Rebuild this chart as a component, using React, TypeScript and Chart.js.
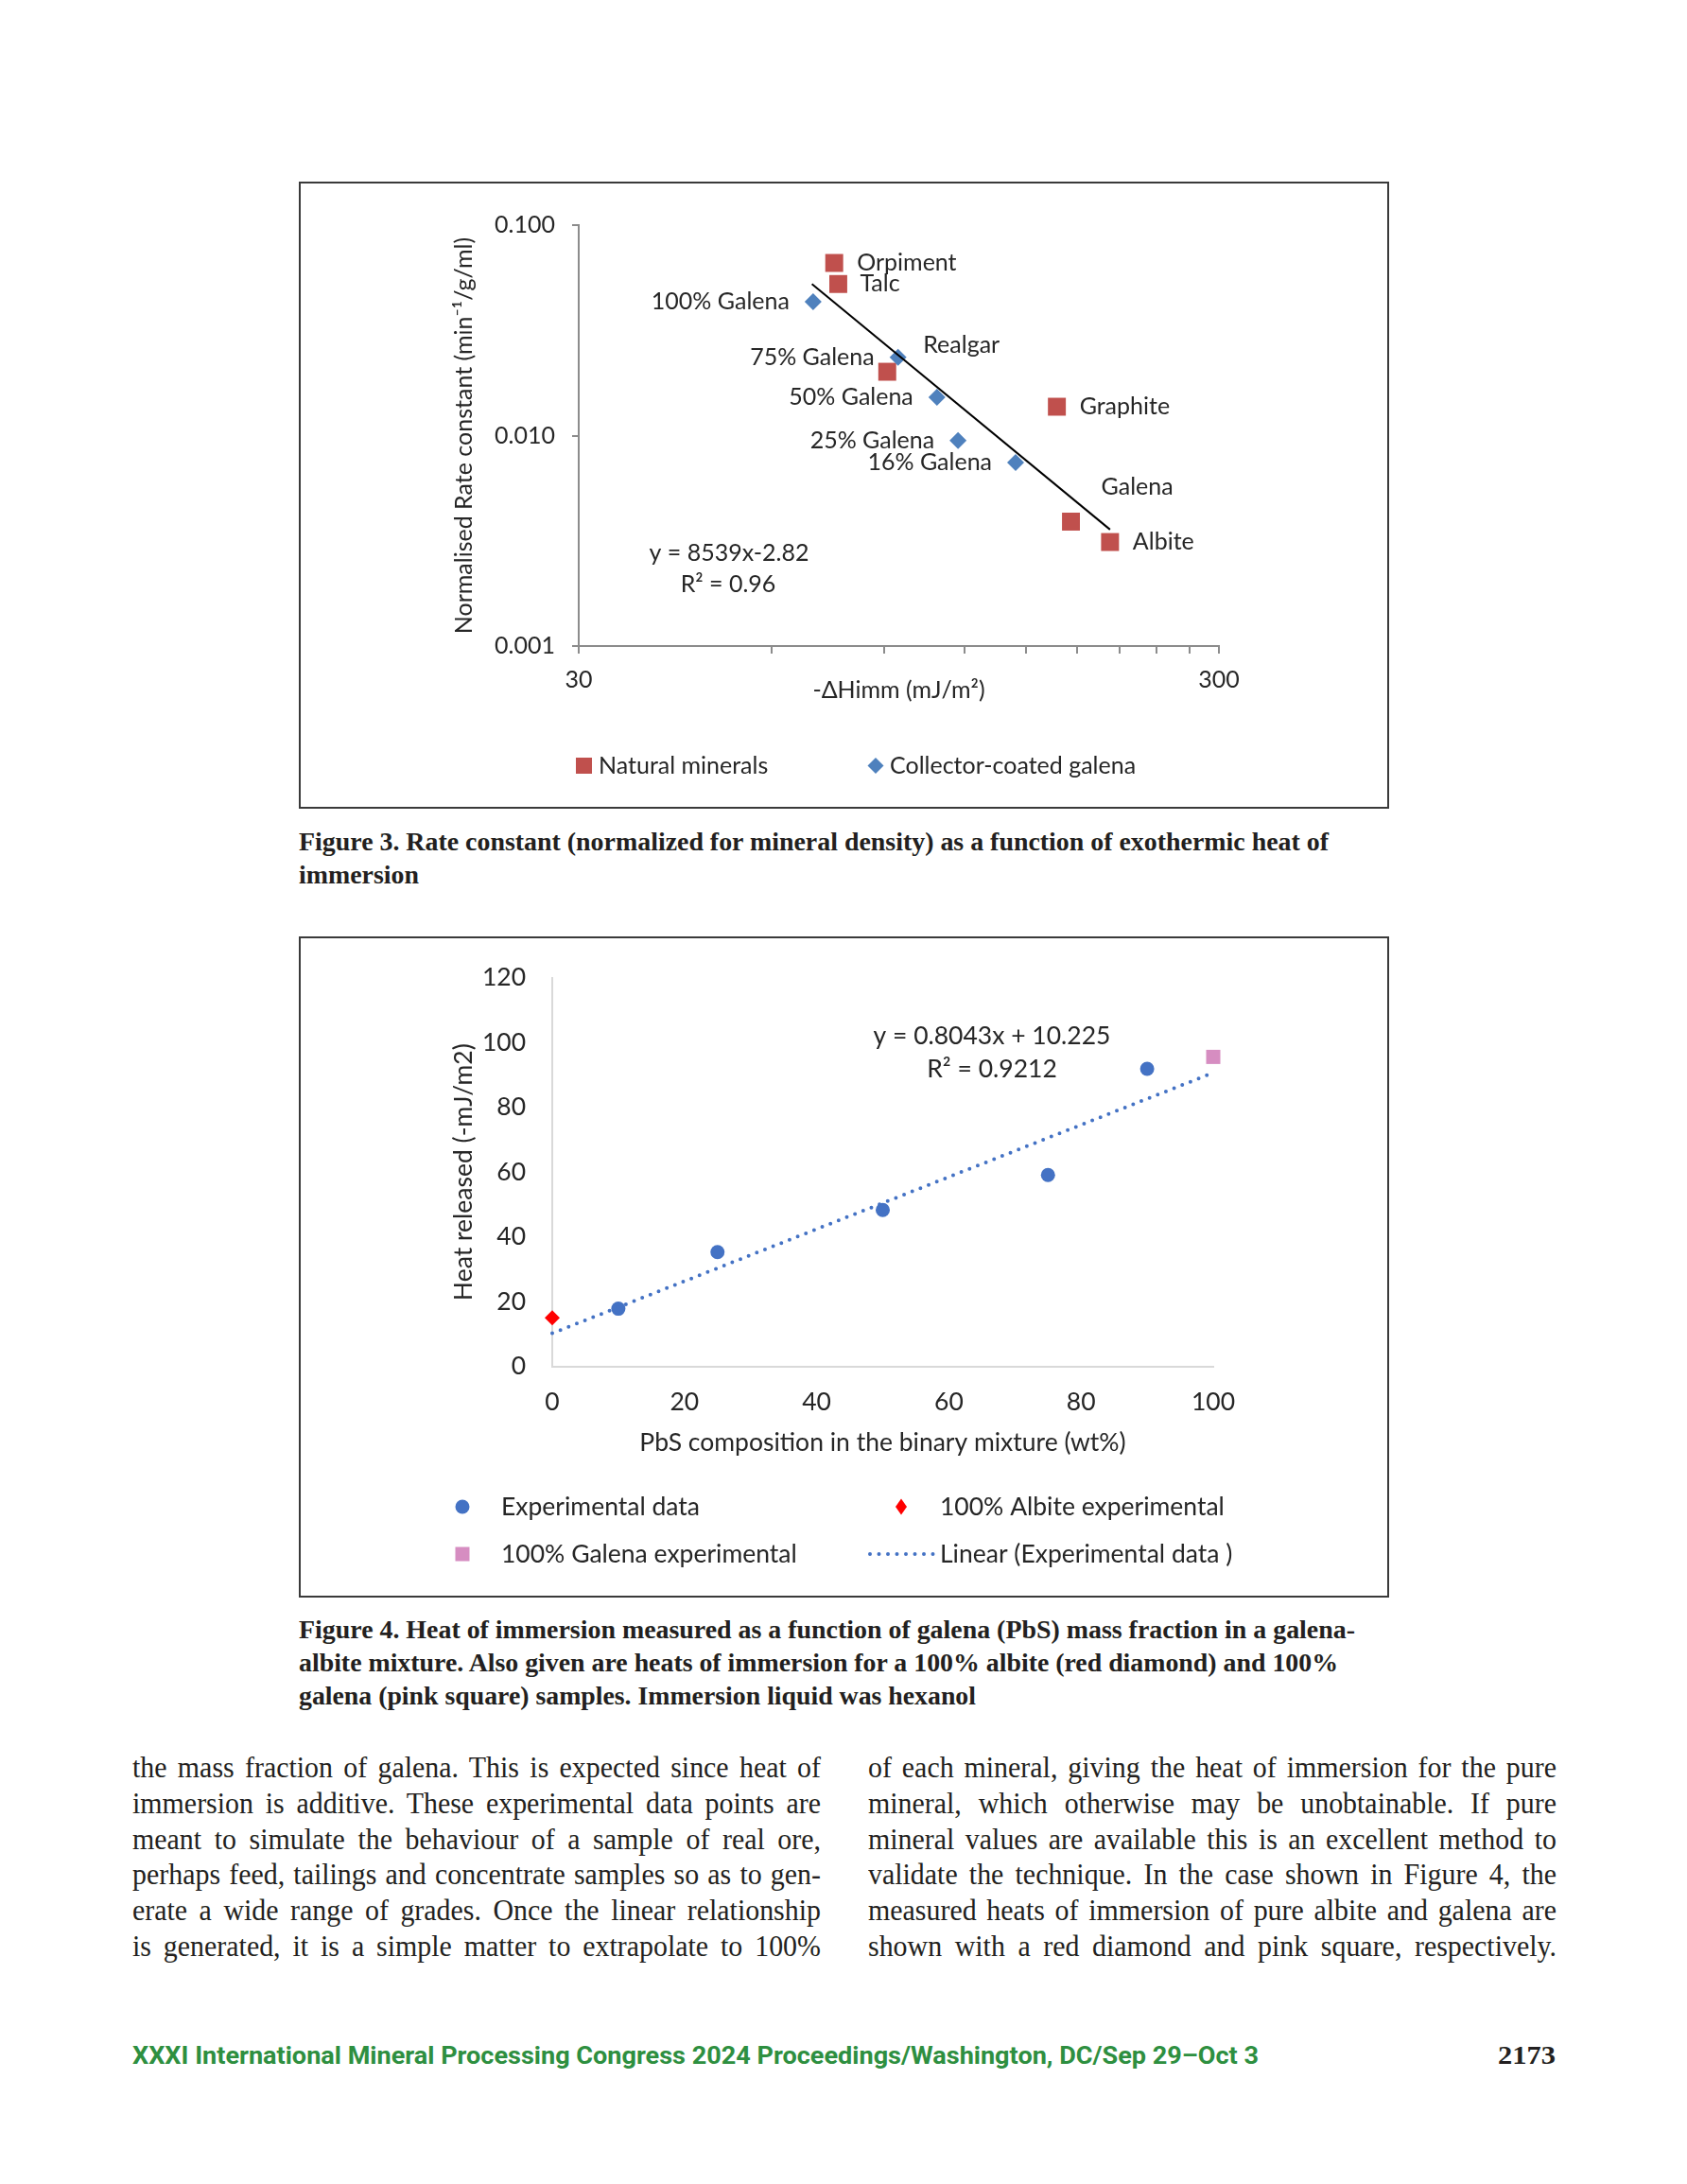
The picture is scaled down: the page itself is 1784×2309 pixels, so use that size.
import React, { useEffect, useLayoutEffect, useRef } from 'react';
import { Chart, registerables } from 'chart.js';

Chart.register(...registerables);

// ---------------- Figure 3 data ----------------
const naturalNames = ['Orpiment', 'Talc', 'Realgar', 'Graphite', 'Galena', 'Albite'];
const naturalHeat = [75.2, 76.3, 91.0, 167.5, 176.2, 202.8];
const naturalRate = [0.0661, 0.0525, 0.0201, 0.01371, 0.0039, 0.00312];

const coatedNames = ['100% Galena', '75% Galena', '50% Galena', '25% Galena', '16% Galena'];
const coatedHeat = [69.7, 94.6, 108.8, 117.4, 144.4];
const coatedRate = [0.0432, 0.02354, 0.0152, 0.00948, 0.00745];

const powerTrendHeat = [69.4, 202.8];
const powerTrendRate = [0.0525, 0.003575];

const fig3XTicks = [30, 60, 90, 120, 150, 180, 210, 240, 270, 300];
const fig3XTickLabels = ['30', '', '', '', '', '', '', '', '', '300'];
const fig3YTicks = [0.001, 0.01, 0.1];
const fig3YTickLabels = ['0.001', '0.010', '0.100'];

// ---------------- Figure 4 data ----------------
const expComposition = [10, 25, 50, 75, 90];
const expHeat = [17.8, 35.3, 48.3, 59.1, 91.9];
const albiteComposition = [0];
const albiteHeat = [15.0];
const galenaComposition = [100];
const galenaHeat = [95.6];
const linearComposition = [0, 100];
const linearHeat = [10.2, 90.7];

const fig4XTicks = [0, 20, 40, 60, 80, 100];
const fig4YTicks = [0, 20, 40, 60, 80, 100, 120];

// ---------------- styles ----------------
const TEXT = '#262626';
const SANS = 'Lato, "Noto Sans", "DejaVu Sans", sans-serif';
const SERIF = '"Liberation Serif", "DejaVu Serif", serif';
const RED3 = '#C0504D';
const BLUE3 = '#4F81BD';
const AXIS3 = '#8c8c8c';
const BLUE4 = '#4472C4';
const RED4 = '#FF0000';
const PINK4 = '#D68DC1';
const AXIS4 = '#d9d9d9';

const naturalLabelPlace = [
  { dx: 24, dy: 0, align: 'left' },
  { dx: 23, dy: 0, align: 'left' },
  { dx: 38, dy: -28, align: 'left' },
  { dx: 24, dy: 0, align: 'left' },
  { dx: 32, dy: -37, align: 'left' },
  { dx: 24, dy: 0, align: 'left' },
];
const coatedLabelPlace = [
  { dx: -25, dy: 0, align: 'right' },
  { dx: -25, dy: 0, align: 'right' },
  { dx: -25, dy: 0, align: 'right' },
  { dx: -25, dy: 0, align: 'right' },
  { dx: -25, dy: 0, align: 'right' },
];

function tickLabel(v: number, ticks: number[], labels: string[]) {
  const i = ticks.findIndex((t) => Math.abs(v - t) <= Math.abs(t) * 1e-6 + 1e-12);
  return i >= 0 ? labels[i] : '';
}

const F3 = 25;
const F4 = 26.5;

const fig3Decor = {
  id: 'fig3Decor',
  afterDatasetsDraw(chart: any) {
    const { ctx } = chart;
    const x = chart.scales.x;
    const y = chart.scales.y;
    ctx.save();
    ctx.fillStyle = TEXT;
    ctx.font = `${F3}px ${SANS}`;
    ctx.textBaseline = 'middle';
    naturalNames.forEach((n, i) => {
      const p = naturalLabelPlace[i];
      ctx.textAlign = p.align;
      ctx.fillText(n, x.getPixelForValue(naturalHeat[i]) + p.dx, y.getPixelForValue(naturalRate[i]) + p.dy);
    });
    coatedNames.forEach((n, i) => {
      const p = coatedLabelPlace[i];
      ctx.textAlign = p.align;
      ctx.fillText(n, x.getPixelForValue(coatedHeat[i]) + p.dx, y.getPixelForValue(coatedRate[i]) + p.dy);
    });
    // trendline equation
    ctx.textAlign = 'center';
    ctx.fillText('y = 8539x-2.82', 455, 393);
    ctx.fillText('R\u00B2 = 0.96', 454, 426);
    // legend
    const ly = 617.5;
    ctx.fillStyle = RED3;
    ctx.fillRect(301.5 - 8.5, ly - 8.5, 17, 17);
    ctx.fillStyle = BLUE3;
    ctx.beginPath();
    ctx.moveTo(610, ly - 8.5);
    ctx.lineTo(618.5, ly);
    ctx.lineTo(610, ly + 8.5);
    ctx.lineTo(601.5, ly);
    ctx.closePath();
    ctx.fill();
    ctx.fillStyle = TEXT;
    ctx.textAlign = 'left';
    ctx.fillText('Natural minerals', 317, ly);
    ctx.fillText('Collector-coated galena', 625, ly);
    ctx.restore();
  },
};

const fig4Decor = {
  id: 'fig4Decor',
  afterDatasetsDraw(chart: any) {
    const { ctx } = chart;
    ctx.save();
    ctx.fillStyle = TEXT;
    ctx.font = `${F4}px ${SANS}`;
    ctx.textBaseline = 'middle';
    ctx.textAlign = 'center';
    ctx.fillText('y = 0.8043x + 10.225', 733, 105);
    ctx.fillText('R\u00B2 = 0.9212', 733, 140.5);
    // legend
    const r1 = 603;
    const r2 = 653;
    ctx.fillStyle = BLUE4;
    ctx.beginPath();
    ctx.arc(173, r1, 7.5, 0, Math.PI * 2);
    ctx.fill();
    ctx.fillStyle = RED4;
    ctx.beginPath();
    ctx.moveTo(637, r1 - 8.5);
    ctx.lineTo(643, r1);
    ctx.lineTo(637, r1 + 8.5);
    ctx.lineTo(631, r1);
    ctx.closePath();
    ctx.fill();
    ctx.fillStyle = PINK4;
    ctx.fillRect(173 - 7.5, r2 - 7.5, 15, 15);
    ctx.strokeStyle = BLUE4;
    ctx.lineWidth = 4;
    ctx.lineCap = 'round';
    ctx.setLineDash([0, 9.5]);
    ctx.beginPath();
    ctx.moveTo(604, r2);
    ctx.lineTo(671, r2);
    ctx.stroke();
    ctx.setLineDash([]);
    ctx.fillStyle = TEXT;
    ctx.textAlign = 'left';
    ctx.fillText('Experimental data', 214, r1);
    ctx.fillText('100% Albite experimental', 678, r1);
    ctx.fillText('100% Galena experimental', 214, r2);
    ctx.fillText('Linear (Experimental data )', 678, r2);
    ctx.restore();
  },
};

function Fig3() {
  const ref = useRef<HTMLCanvasElement>(null);
  useEffect(() => {
    const chart = new Chart(ref.current as HTMLCanvasElement, {
      type: 'scatter',
      data: {
        datasets: [
          {
            label: 'Power trend',
            data: powerTrendHeat.map((x, i) => ({ x, y: powerTrendRate[i] })),
            showLine: true,
            borderColor: '#000000',
            borderWidth: 2,
            pointRadius: 0,
            fill: false,
            order: 0,
            clip: false,
          } as any,
          {
            label: 'Collector-coated galena',
            data: coatedHeat.map((x, i) => ({ x, y: coatedRate[i] })),
            pointStyle: 'rectRot',
            pointRadius: 9,
            pointBackgroundColor: BLUE3,
            pointBorderWidth: 0,
            order: 1,
            clip: false,
          } as any,
          {
            label: 'Natural minerals',
            data: naturalHeat.map((x, i) => ({ x, y: naturalRate[i] })),
            pointStyle: 'rect',
            pointRadius: 13.4,
            pointBackgroundColor: RED3,
            pointBorderWidth: 0,
            order: 2,
            clip: false,
          } as any,
        ],
      },
      options: {
        animation: false,
        responsive: false,
        maintainAspectRatio: false,
        events: [],
        layout: { padding: { left: 0, top: 46, right: 180, bottom: 0 } },
        plugins: { legend: { display: false }, tooltip: { enabled: false } },
        scales: {
          x: {
            type: 'logarithmic',
            min: 30,
            max: 300,
            afterFit: (s: any) => { s.height = 172; },
            afterBuildTicks: (s: any) => { s.ticks = fig3XTicks.map((v) => ({ value: v })); },
            ticks: {
              autoSkip: false,
              maxRotation: 0,
              padding: 13,
              color: TEXT,
              font: { family: SANS, size: F3 },
              callback: (v: any) => tickLabel(Number(v), fig3XTicks, fig3XTickLabels),
            },
            grid: { display: true, drawOnChartArea: false, drawTicks: true, tickLength: 8, color: AXIS3, lineWidth: 2 },
            border: { display: true, color: AXIS3, width: 2 },
            title: {
              display: true,
              text: '-\u0394Himm (mJ/m\u00B2)',
              color: TEXT,
              font: { family: SANS, size: F3 },
              padding: { top: 0, bottom: 110 },
            },
          } as any,
          y: {
            type: 'logarithmic',
            min: 0.001,
            max: 0.1,
            afterFit: (s: any) => { s.width = 296; },
            afterBuildTicks: (s: any) => { s.ticks = fig3YTicks.map((v) => ({ value: v })); },
            ticks: {
              autoSkip: false,
              padding: 18,
              color: TEXT,
              font: { family: SANS, size: F3 },
              callback: (v: any) => tickLabel(Number(v), fig3YTicks, fig3YTickLabels),
            },
            grid: { display: true, drawOnChartArea: false, drawTicks: true, tickLength: 7, color: AXIS3, lineWidth: 2 },
            border: { display: true, color: AXIS3, width: 2 },
            title: {
              display: true,
              text: 'Normalised Rate constant (min\u207B\u00B9/g/ml)',
              color: TEXT,
              font: { family: SANS, size: F3 },
              padding: { top: 160, bottom: 0 },
            },
          } as any,
        },
      } as any,
      plugins: [fig3Decor as any],
    });
    return () => chart.destroy();
  }, []);
  return (
    <div style={{ position: 'absolute', left: 316, top: 192, width: 1153, height: 663 }}>
      <canvas ref={ref} width={1153} height={663} style={{ position: 'absolute', left: 0, top: 0, width: 1153, height: 663 }} />
      <div style={{ position: 'absolute', left: 0, top: 0, width: 1153, height: 663, border: '2px solid #3a3a3a', boxSizing: 'border-box', pointerEvents: 'none' }} />
    </div>
  );
}

function Fig4() {
  const ref = useRef<HTMLCanvasElement>(null);
  useEffect(() => {
    const chart = new Chart(ref.current as HTMLCanvasElement, {
      type: 'scatter',
      data: {
        datasets: [
          {
            label: 'Linear (Experimental data )',
            data: linearComposition.map((x, i) => ({ x, y: linearHeat[i] })),
            showLine: true,
            borderColor: BLUE4,
            borderWidth: 4,
            borderDash: [0, 9.3],
            borderCapStyle: 'round',
            pointRadius: 0,
            fill: false,
            order: 0,
            clip: false,
          } as any,
          {
            label: 'Experimental data',
            data: expComposition.map((x, i) => ({ x, y: expHeat[i] })),
            pointStyle: 'circle',
            pointRadius: 7.5,
            pointBackgroundColor: BLUE4,
            pointBorderWidth: 0,
            order: 1,
            clip: false,
          } as any,
          {
            label: '100% Albite experimental',
            data: albiteComposition.map((x, i) => ({ x, y: albiteHeat[i] })),
            pointStyle: 'rectRot',
            pointRadius: 8,
            pointBackgroundColor: RED4,
            pointBorderWidth: 0,
            order: 2,
            clip: false,
          } as any,
          {
            label: '100% Galena experimental',
            data: galenaComposition.map((x, i) => ({ x, y: galenaHeat[i] })),
            pointStyle: 'rect',
            pointRadius: 10.6,
            pointBackgroundColor: PINK4,
            pointBorderWidth: 0,
            order: 3,
            clip: false,
          } as any,
        ],
      },
      options: {
        animation: false,
        responsive: false,
        maintainAspectRatio: false,
        events: [],
        layout: { padding: { left: 0, top: 43, right: 186, bottom: 0 } },
        plugins: { legend: { display: false }, tooltip: { enabled: false } },
        scales: {
          x: {
            type: 'linear',
            min: 0,
            max: 100,
            afterFit: (s: any) => { s.height = 244.5; },
            afterBuildTicks: (s: any) => { s.ticks = fig4XTicks.map((v) => ({ value: v })); },
            ticks: { autoSkip: false, maxRotation: 0, padding: 22, color: TEXT, font: { family: SANS, size: F4 } },
            grid: { display: false, drawTicks: false, tickLength: 0 },
            border: { display: true, color: AXIS4, width: 2 },
            title: {
              display: true,
              text: 'PbS composition in the binary mixture (wt%)',
              color: TEXT,
              font: { family: SANS, size: F4 },
              padding: { top: 0, bottom: 147.6 },
            },
          } as any,
          y: {
            type: 'linear',
            min: 0,
            max: 120,
            afterFit: (s: any) => { s.width = 268; },
            afterBuildTicks: (s: any) => { s.ticks = fig4YTicks.map((v) => ({ value: v })); },
            ticks: { autoSkip: false, padding: 28, color: TEXT, font: { family: SANS, size: F4 } },
            grid: { display: false, drawTicks: false, tickLength: 0 },
            border: { display: true, color: AXIS4, width: 2 },
            title: {
              display: true,
              text: 'Heat released (-mJ/m2)',
              color: TEXT,
              font: { family: SANS, size: F4 },
              padding: { top: 159, bottom: 0 },
            },
          } as any,
        },
      } as any,
      plugins: [fig4Decor as any],
    });
    return () => chart.destroy();
  }, []);
  return (
    <div style={{ position: 'absolute', left: 316, top: 990, width: 1153, height: 699 }}>
      <canvas ref={ref} width={1153} height={699} style={{ position: 'absolute', left: 0, top: 0, width: 1153, height: 699 }} />
      <div style={{ position: 'absolute', left: 0, top: 0, width: 1153, height: 699, border: '2px solid #3a3a3a', boxSizing: 'border-box', pointerEvents: 'none' }} />
    </div>
  );
}

type FitProps = {
  text: string;
  x: number;
  cy: number;
  w: number;
  family: string;
  size: number;
  weight?: number;
  color?: string;
  lh: number;
  mode: 'scale' | 'justify';
  k?: number;
  right?: boolean;
};

function FitLine(p: FitProps) {
  const ref = useRef<HTMLSpanElement>(null);
  useLayoutEffect(() => {
    const el = ref.current;
    if (!el) return;
    const fit = () => {
      el.style.transform = 'none';
      el.style.wordSpacing = '0px';
      const nat = el.getBoundingClientRect().width;
      if (!nat) return;
      if (p.mode === 'scale') {
        el.style.transform = `scaleX(${p.w / nat})`;
        return;
      }
      const k = p.k ?? 1;
      const spaces = (p.text.match(/ /g) || []).length;
      if (nat * k <= p.w && spaces > 0) {
        el.style.wordSpacing = `${(p.w / k - nat) / spaces}px`;
        el.style.transform = `scaleX(${k})`;
      } else {
        el.style.transform = `scaleX(${p.w / nat})`;
      }
    };
    fit();
    const fonts = (document as any).fonts;
    if (fonts && fonts.ready) fonts.ready.then(fit);
  }, [p.text, p.w]);
  const style: React.CSSProperties = {
    position: 'absolute',
    top: p.cy - p.lh / 2,
    height: p.lh,
    lineHeight: `${p.lh}px`,
    whiteSpace: 'pre',
    display: 'inline-block',
    fontFamily: p.family,
    fontSize: p.size,
    fontWeight: p.weight ?? 400,
    color: p.color ?? '#231f20',
    transformOrigin: p.right ? 'right center' : 'left center',
  };
  if (p.right) style.right = 1784 - p.x;
  else style.left = p.x;
  return (
    <span ref={ref} style={style}>
      {p.text}
    </span>
  );
}

const cap3 = [
  { t: 'Figure 3. Rate constant (normalized for mineral density) as a function of exothermic heat of', w: 1089 },
  { t: 'immersion', w: 127 },
];
const cap4 = [
  { t: 'Figure 4. Heat of immersion measured as a function of galena (PbS) mass fraction in a galena-', w: 1117 },
  { t: 'albite mixture. Also given are heats of immersion for a 100% albite (red diamond) and 100%', w: 1099 },
  { t: 'galena (pink square) samples. Immersion liquid was hexanol', w: 716 },
];
const bodyLeft = [
  'the mass fraction of galena. This is expected since heat of',
  'immersion is additive. These experimental data points are',
  'meant to simulate the behaviour of a sample of real ore,',
  'perhaps feed, tailings and concentrate samples so as to gen-',
  'erate a wide range of grades. Once the linear relationship',
  'is generated, it is a simple matter to extrapolate to 100%',
];
const bodyRight = [
  'of each mineral, giving the heat of immersion for the pure',
  'mineral, which otherwise may be unobtainable. If pure',
  'mineral values are available this is an excellent method to',
  'validate the technique. In the case shown in Figure 4, the',
  'measured heats of immersion of pure albite and galena are',
  'shown with a red diamond and pink square, respectively.',
];

export default function App() {
  return (
    <div style={{ position: 'absolute', left: 0, top: 0, width: 1784, height: 2309, background: '#ffffff', overflow: 'hidden' }}>
      <Fig3 />
      <Fig4 />
      {cap3.map((c, i) => (
        <FitLine key={'c3' + i} text={c.t} x={316} cy={889 + i * 35.2} w={c.w} family={SERIF} size={27.5} weight={700} lh={35} mode="scale" />
      ))}
      {cap4.map((c, i) => (
        <FitLine key={'c4' + i} text={c.t} x={316} cy={1722 + i * 35.2} w={c.w} family={SERIF} size={27.5} weight={700} lh={35} mode="scale" />
      ))}
      {bodyLeft.map((t, i) => (
        <FitLine key={'bl' + i} text={t} x={140} cy={1869 + i * 37.75} w={728} family={SERIF} size={31} lh={38} mode="justify" k={0.965} />
      ))}
      {bodyRight.map((t, i) => (
        <FitLine key={'br' + i} text={t} x={918} cy={1869 + i * 37.75} w={728} family={SERIF} size={31} lh={38} mode="justify" k={0.965} />
      ))}
      <FitLine
        text={'XXXI International Mineral Processing Congress 2024 Proceedings/Washington, DC/Sep 29\u2013Oct 3'}
        x={140}
        cy={2173}
        w={1191}
        family={'Roboto, "Liberation Sans", sans-serif'}
        size={26}
        weight={700}
        color={'#2e8f40'}
        lh={32}
        mode="scale"
      />
      <FitLine text={'2173'} x={1645} cy={2173} w={61} family={SERIF} size={28} weight={700} lh={32} mode="scale" right />
    </div>
  );
}
